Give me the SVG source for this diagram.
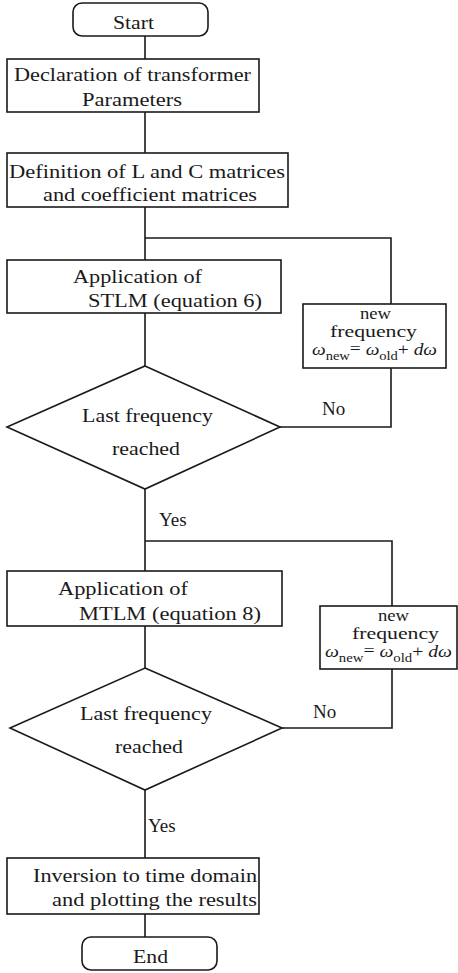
<svg xmlns="http://www.w3.org/2000/svg" width="458" height="973" viewBox="0 0 458 973">
<style>
.s{fill:#fff;stroke:#1a1a1a;stroke-width:1.6}
.c{fill:none;stroke:#1a1a1a;stroke-width:1.6}
text{font-family:"Liberation Serif","Times New Roman",serif;font-size:19px;fill:#1a1a1a}
.f{font-size:16px}
.i{font-style:italic}
.sub{font-size:12px}
</style>
<rect width="458" height="973" fill="#fff"/>
<g id="connectors">
<path class="c" d="M145 36V59M145 112V153M145 207V260M145 238H391V304M391 368V427H280M145 313V366M145 489V571M145 541H392V606M392 669V728H282M145 626V668M145 790V858M145 914V937"/>
</g>
<g id="start">
<rect class="s" x="73" y="3" width="135" height="33" rx="9"/>
<text x="113" y="29" textLength="41" lengthAdjust="spacingAndGlyphs">Start</text>
</g>
<g id="declaration">
<rect class="s" x="7" y="59" width="252" height="53"/>
<text x="14" y="81" textLength="237" lengthAdjust="spacingAndGlyphs">Declaration of transformer</text>
<text x="82" y="106" textLength="100" lengthAdjust="spacingAndGlyphs">Parameters</text>
</g>
<g id="definition">
<rect class="s" x="7" y="153" width="281" height="54"/>
<text x="9" y="178" textLength="276" lengthAdjust="spacingAndGlyphs">Definition of L and C matrices</text>
<text x="43" y="201" textLength="214" lengthAdjust="spacingAndGlyphs">and coefficient matrices</text>
</g>
<g id="stlm">
<rect class="s" x="7" y="260" width="274" height="53"/>
<text x="73" y="283" textLength="129" lengthAdjust="spacingAndGlyphs">Application of</text>
<text x="88" y="307" textLength="174" lengthAdjust="spacingAndGlyphs">STLM (equation 6)</text>
</g>
<g id="newfreq1">
<rect class="s" x="303" y="304" width="143" height="64"/>
<text class="f" x="360" y="319" textLength="31" lengthAdjust="spacingAndGlyphs">new</text>
<text class="f" x="330" y="337" textLength="87" lengthAdjust="spacingAndGlyphs">frequency</text>
<text class="f" x="312" y="355" textLength="125" lengthAdjust="spacingAndGlyphs"><tspan class="i">ω</tspan><tspan class="sub" dy="5">new</tspan><tspan dy="-6">=</tspan><tspan dy="1"> </tspan><tspan class="i">ω</tspan><tspan class="sub" dy="5">old</tspan><tspan dy="-5">+ </tspan><tspan class="i">dω</tspan></text>
</g>
<g id="decision1">
<polygon class="s" points="145,366 280,427 145,489 7,427"/>
<text x="82" y="422" textLength="131" lengthAdjust="spacingAndGlyphs">Last frequency</text>
<text x="112" y="455" textLength="68" lengthAdjust="spacingAndGlyphs">reached</text>
</g>
<g id="labels">
<text x="322" y="415">No</text>
<text x="159" y="526">Yes</text>
<text x="313" y="718">No</text>
<text x="148" y="832">Yes</text>
</g>
<g id="mtlm">
<rect class="s" x="7" y="571" width="275" height="55"/>
<text x="58" y="595" textLength="130" lengthAdjust="spacingAndGlyphs">Application of</text>
<text x="79" y="620" textLength="182" lengthAdjust="spacingAndGlyphs">MTLM (equation 8)</text>
</g>
<g id="newfreq2">
<rect class="s" x="320" y="606" width="137" height="63"/>
<text class="f" x="378" y="621" textLength="31" lengthAdjust="spacingAndGlyphs">new</text>
<text class="f" x="352" y="639" textLength="87" lengthAdjust="spacingAndGlyphs">frequency</text>
<text class="f" x="325" y="657" textLength="127" lengthAdjust="spacingAndGlyphs"><tspan class="i">ω</tspan><tspan class="sub" dy="5">new</tspan><tspan dy="-6">=</tspan><tspan dy="1"> </tspan><tspan class="i">ω</tspan><tspan class="sub" dy="5">old</tspan><tspan dy="-5">+ </tspan><tspan class="i">dω</tspan></text>
</g>
<g id="decision2">
<polygon class="s" points="145,668 282,728 145,790 10,728"/>
<text x="80" y="720" textLength="132" lengthAdjust="spacingAndGlyphs">Last frequency</text>
<text x="115" y="753" textLength="68" lengthAdjust="spacingAndGlyphs">reached</text>
</g>
<g id="inversion">
<rect class="s" x="7" y="858" width="252" height="56"/>
<text x="33" y="882" textLength="224" lengthAdjust="spacingAndGlyphs">Inversion to time domain</text>
<text x="52" y="906" textLength="205" lengthAdjust="spacingAndGlyphs">and plotting the results</text>
</g>
<g id="end">
<rect class="s" x="82" y="937" width="135" height="33" rx="9"/>
<text x="133" y="963" textLength="35" lengthAdjust="spacingAndGlyphs">End</text>
</g>
</svg>
